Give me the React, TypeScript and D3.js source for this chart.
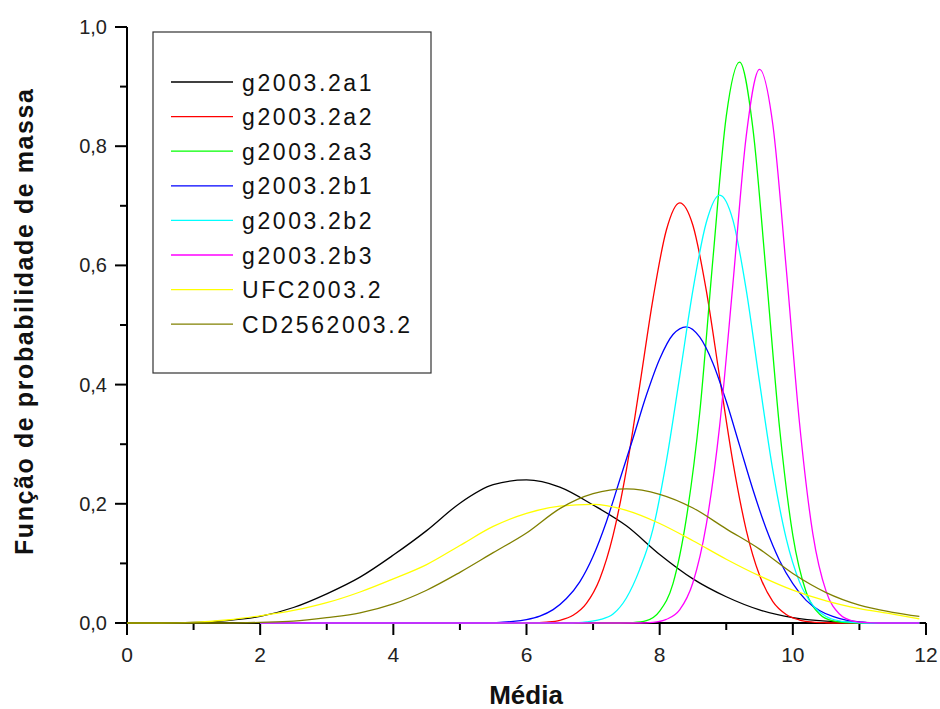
import React from 'react';
import * as d3 from 'd3';

const W = 940;
const H = 709;

// axis domain
const xDomain = [0, 12];
const yDomain = [0, 1];

const xTicksMajor = [0, 2, 4, 6, 8, 10, 12];
const xTicksMinor = [1, 3, 5, 7, 9, 11];
const xTickLabels = ['0', '2', '4', '6', '8', '10', '12'];
const yTicksMajor = [0, 0.2, 0.4, 0.6, 0.8, 1.0];
const yTicksMinor = [0.1, 0.3, 0.5, 0.7, 0.9];
const yTickLabels = ['0,0', '0,2', '0,4', '0,6', '0,8', '1,0'];

const xTitle = 'Média';
const yTitle = 'Função de probabilidade de massa';

const seriesNames = ['g2003.2a1', 'g2003.2a2', 'g2003.2a3', 'g2003.2b1', 'g2003.2b2', 'g2003.2b3', 'UFC2003.2', 'CD2562003.2'];
const seriesColors = ['#000000', '#ff0000', '#00ff00', '#0000ff', '#00ffff', '#ff00ff', '#ffff00', '#808000'];

// wide series grid
const xWide = [0, 0.5, 1, 1.5, 2, 2.5, 3, 3.5, 4, 4.5, 5, 5.5, 6, 6.5, 7, 7.5, 8, 8.5, 9, 9.5, 10, 10.5, 11, 11.5, 11.9];

const blackY = [0, 0, 0.001, 0.004, 0.011, 0.026, 0.049, 0.077, 0.114, 0.155, 0.201, 0.232, 0.240, 0.228, 0.198, 0.163, 0.115, 0.074, 0.044, 0.022, 0.009, 0.003, 0.001, 0, 0];
const yellowY = [0, 0, 0.001, 0.005, 0.012, 0.021, 0.034, 0.052, 0.074, 0.098, 0.130, 0.162, 0.184, 0.196, 0.199, 0.189, 0.167, 0.138, 0.107, 0.079, 0.055, 0.037, 0.024, 0.015, 0.007];
const oliveY = [0, 0, 0, 0, 0.001, 0.003, 0.009, 0.017, 0.032, 0.055, 0.085, 0.118, 0.151, 0.192, 0.217, 0.225, 0.216, 0.193, 0.158, 0.124, 0.083, 0.051, 0.030, 0.018, 0.011];

// narrow series
const redX = [2, 6.1, 6.3, 6.5, 6.7, 6.9, 7.1, 7.3, 7.5, 7.7, 7.9, 8.1, 8.3, 8.5, 8.7, 8.9, 9.1, 9.3, 9.5, 9.7, 9.9, 10.1, 10.3, 10.5, 10.7, 11.9];
const redY = [0, 0, 0.0014, 0.0046, 0.013, 0.033, 0.074, 0.147, 0.257, 0.398, 0.544, 0.659, 0.705, 0.667, 0.558, 0.413, 0.270, 0.156, 0.080, 0.036, 0.0144, 0.005, 0.0016, 0.0004, 0, 0];

const greenX = [2, 7.4, 7.6, 7.8, 8.0, 8.2, 8.4, 8.6, 8.8, 9.0, 9.2, 9.4, 9.6, 9.8, 10.0, 10.2, 10.4, 10.6, 10.8, 11.0, 11.9];
const greenY = [0, 0, 0.0007, 0.004, 0.020, 0.066, 0.175, 0.351, 0.611, 0.850, 0.941, 0.830, 0.585, 0.328, 0.147, 0.052, 0.015, 0.0034, 0.0006, 0, 0];

const blueX = [2, 5.4, 5.6, 5.8, 6.0, 6.2, 6.4, 6.6, 6.8, 7.0, 7.2, 7.4, 7.6, 7.8, 8.0, 8.2, 8.4, 8.6, 8.8, 9.0, 9.2, 9.4, 9.6, 9.8, 10.0, 10.2, 10.4, 10.6, 10.8, 11.0, 11.2, 11.9];
const blueY = [0, 0, 0.0011, 0.0026, 0.0058, 0.0117, 0.0225, 0.041, 0.069, 0.112, 0.170, 0.240, 0.310, 0.382, 0.443, 0.484, 0.497, 0.480, 0.436, 0.372, 0.298, 0.224, 0.158, 0.105, 0.066, 0.038, 0.021, 0.011, 0.005, 0.002, 0, 0];

const cyanX = [2, 6.7, 6.9, 7.1, 7.3, 7.5, 7.7, 7.9, 8.1, 8.3, 8.5, 8.7, 8.9, 9.1, 9.3, 9.5, 9.7, 9.9, 10.1, 10.3, 10.5, 10.7, 10.9, 11.1, 11.9];
const cyanY = [0, 0, 0.0018, 0.0055, 0.015, 0.042, 0.090, 0.158, 0.271, 0.413, 0.559, 0.672, 0.718, 0.676, 0.559, 0.404, 0.256, 0.142, 0.069, 0.030, 0.011, 0.0036, 0.001, 0, 0];

const magentaX = [2, 7.7, 7.9, 8.1, 8.3, 8.5, 8.7, 8.9, 9.1, 9.3, 9.5, 9.7, 9.9, 10.1, 10.3, 10.5, 10.7, 10.9, 11.1, 11.3, 11.9];
const magentaY = [0, 0, 0.001, 0.006, 0.022, 0.068, 0.165, 0.330, 0.569, 0.817, 0.929, 0.836, 0.596, 0.336, 0.150, 0.053, 0.015, 0.0033, 0.0005, 0, 0];

const seriesX = [xWide, redX, greenX, blueX, cyanX, magentaX, xWide, xWide];
const seriesY = [blackY, redY, greenY, blueY, cyanY, magentaY, yellowY, oliveY];

const FONT = '"Liberation Sans", Arial, Helvetica, sans-serif';

export default function App() {
  const x = d3.scaleLinear().domain(xDomain).range([127, 926]);
  const y = d3.scaleLinear().domain(yDomain).range([623, 27]);

  const line = d3
    .line<[number, number]>()
    .x((d) => x(d[0]))
    .y((d) => y(d[1]))
    .curve(d3.curveMonotoneX);

  const legendX = 153;
  const legendY = 32;
  const legendW = 278;
  const legendH = 341;
  const rowY0 = 82;
  const rowStep = 34.6;

  return (
    <svg
      width={W}
      height={H}
      style={{ position: 'absolute', left: 0, top: 0, background: '#fff' }}
      xmlns="http://www.w3.org/2000/svg"
    >
      <rect x={0} y={0} width={W} height={H} fill="#fff" />

      {/* axes */}
      <line x1={x(0)} y1={y(0)} x2={x(12)} y2={y(0)} stroke="#000" strokeWidth={2} />
      <line x1={x(0)} y1={y(0)} x2={x(0)} y2={y(1)} stroke="#000" strokeWidth={2} />
      {xTicksMajor.map((t) => (
        <line key={'xM' + t} x1={x(t)} x2={x(t)} y1={y(0)} y2={y(0) + 12} stroke="#000" strokeWidth={2} />
      ))}
      {xTicksMinor.map((t) => (
        <line key={'xm' + t} x1={x(t)} x2={x(t)} y1={y(0)} y2={y(0) + 7} stroke="#000" strokeWidth={2} />
      ))}
      {yTicksMajor.map((t) => (
        <line key={'yM' + t} x1={x(0) - 12} x2={x(0)} y1={y(t)} y2={y(t)} stroke="#000" strokeWidth={2} />
      ))}
      {yTicksMinor.map((t) => (
        <line key={'ym' + t} x1={x(0) - 7} x2={x(0)} y1={y(t)} y2={y(t)} stroke="#000" strokeWidth={2} />
      ))}
      {xTicksMajor.map((t, i) => (
        <text key={'xl' + t} x={x(t)} y={662} textAnchor="middle" fontFamily={FONT} fontSize={21} fill="#222">
          {xTickLabels[i]}
        </text>
      ))}
      {yTicksMajor.map((t, i) => (
        <text key={'yl' + t} x={107} y={y(t) + 7} textAnchor="end" fontFamily={FONT} fontSize={20} fill="#222">
          {yTickLabels[i]}
        </text>
      ))}

      {/* series */}
      {seriesY.map((ys, si) => {
        const pts: [number, number][] = ys.map((v, i) => [seriesX[si][i], v]);
        return (
          <path key={'s' + si} d={line(pts) || ''} fill="none" stroke={seriesColors[si]} strokeWidth={1.3} />
        );
      })}

      {/* titles */}
      <text x={526} y={704} textAnchor="middle" fontFamily={FONT} fontSize={26} fontWeight="bold" fill="#111">
        {xTitle}
      </text>
      <text
        transform={`translate(33,322) rotate(-90)`}
        textAnchor="middle"
        fontFamily={FONT}
        fontSize={25}
        fontWeight="bold"
        fill="#111"
        textLength={466}
        lengthAdjust="spacing"
      >
        {yTitle}
      </text>

      {/* legend */}
      <rect x={legendX} y={legendY} width={legendW} height={legendH} fill="#fff" stroke="#333" strokeWidth={1.2} />
      {seriesNames.map((n, i) => (
        <g key={'lg' + i}>
          <line
            x1={171}
            x2={233}
            y1={rowY0 + i * rowStep}
            y2={rowY0 + i * rowStep}
            stroke={seriesColors[i]}
            strokeWidth={1.3}
          />
          <text
            x={242}
            y={rowY0 + i * rowStep + 8.5}
            fontFamily={FONT}
            fontSize={23}
            letterSpacing={2.6}
            fill="#111"
          >
            {n}
          </text>
        </g>
      ))}
    </svg>
  );
}
